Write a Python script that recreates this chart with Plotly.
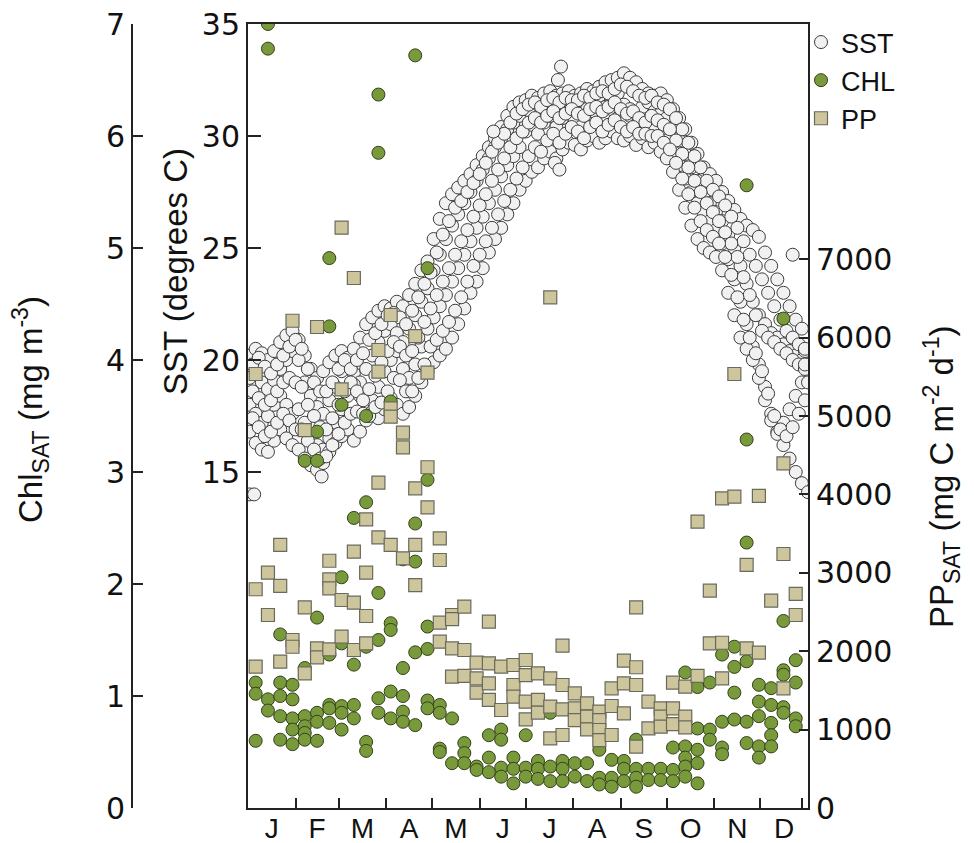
import plotly.graph_objects as go

# ---------------- data ----------------
month_labels = ["J", "F", "M", "A", "M", "J", "J", "A", "S", "O", "N", "D"]
month_mid = [15.5, 45, 74.5, 105, 135.5, 166, 196.5, 227.5, 258, 288.5, 319, 349.5]
month_end = [31, 59, 90, 120, 151, 181, 212, 243, 273, 304, 334, 361]

sst_days_1 = list(range(1, 362, 4))  # sampling days, series A-D
sst_days_2 = list(range(3, 364, 4))  # sampling days, series E-G

sst_a = [20.2, 20.5, 20.3, 20.0, 20.4, 20.8, 21.1, 21.3,
         20.9, 20.2, 19.6, 19.2, 19.5, 19.9, 20.2,
         20.4, 20.1, 20.5, 21.0, 21.6, 21.9, 22.2, 22.4,
         22.3, 22.6, 22.4, 22.9, 23.4, 24.0, 24.4,
         25.4, 26.3, 27.0, 27.4, 27.7, 28.0, 28.3, 28.7,
         29.1, 29.5, 29.9, 30.4, 30.9, 31.3, 31.5,
         31.6, 31.8, 31.7, 31.9, 32.0, 31.8, 31.9, 32.0,
         31.8, 31.9, 32.1, 32.0, 32.2, 32.4, 32.5, 32.6,
         32.8, 32.6, 32.4, 32.1, 31.9, 31.8, 31.9,
         31.6, 31.2, 30.8, 30.3, 29.7, 29.2, 28.6, 28.3,
         28.0, 27.5, 27.1, 26.7, 26.3, 26.0, 25.8, 25.5,
         24.8, 24.2, 23.6, 23.0, 22.4, 21.8, 21.4]
sst_b = [19.2, 19.5, 19.0, 18.7, 19.1, 19.6, 20.0, 20.4,
         20.0, 19.0, 18.4, 17.9, 17.6, 18.2, 18.8,
         19.5, 19.8, 19.4, 19.0, 19.6, 20.2, 20.8, 21.3,
         21.6, 21.2, 20.8, 21.4, 22.0, 22.6, 23.2,
         24.0, 24.7, 25.4, 26.0, 26.5, 27.0, 27.5, 28.0,
         28.5, 29.0, 29.5, 29.9, 30.3, 30.6, 30.9,
         31.2, 31.0, 31.4, 31.2, 30.9, 31.3, 31.5, 31.1,
         31.4, 31.6, 31.2, 31.5, 31.8, 31.3, 31.6, 31.9,
         31.4, 31.2, 30.9, 31.3, 31.5, 31.1, 31.0,
         30.8, 30.4, 29.8, 29.2, 28.6, 28.0, 27.4, 27.0,
         26.6, 26.2, 25.6, 25.0, 24.2, 23.4, 22.6, 22.0,
         21.6, 21.2, 21.0, 20.7, 20.4, 20.2, 20.0]
sst_c = [18.0, 17.6, 17.2, 17.5, 18.0, 18.4, 18.0, 17.6,
         17.8, 17.2, 16.6, 16.2, 16.0, 16.5, 17.2,
         17.8, 18.4, 18.9, 18.4, 17.8, 18.2, 18.8, 19.5,
         20.0, 20.4, 19.6, 19.2, 19.8, 20.6, 21.4,
         21.9, 22.4, 22.9, 23.5, 24.1, 24.7, 25.3, 25.9,
         26.4, 27.0, 27.6, 28.2, 28.7, 29.1, 29.5,
         30.2, 30.5, 30.1, 30.6, 30.9, 30.4, 30.8, 31.0,
         30.7, 30.4, 30.9, 31.1, 30.6, 30.9, 31.2, 30.8,
         30.6, 30.9, 30.5, 30.2, 30.6, 30.3, 30.0,
         29.8, 29.3, 28.7, 28.1, 27.5, 27.0, 26.6, 26.2,
         25.8, 25.2, 24.5, 23.6, 22.6, 21.6, 20.6, 19.8,
         18.8, 17.6, 16.8, 17.2, 17.8, 18.4, 19.0]
sst_d = [16.8, 16.3, 16.0, 15.9, 16.4, 16.9, 16.5, 16.2,
         16.0, 15.6, 15.3, 15.1, 15.4, 15.9, 16.3,
         16.6, 16.9, 16.4, 16.8, 17.3, 17.7, 17.4, 17.8,
         18.3, 18.0, 17.6, 17.9, 18.4, 19.0, 19.5,
         19.9, 20.2, 20.5, 21.0, 21.6, 22.3, 23.0, 23.5,
         24.1, 24.8, 25.4, 25.9, 26.5, 27.0, 27.6,
         28.0, 28.4, 28.6, 29.0, 29.3, 29.0, 29.4, 29.7,
         29.6, 29.4, 29.8, 30.0, 29.7, 29.9, 30.2, 29.9,
         29.8, 30.0, 29.6, 29.9, 29.5, 29.7, 29.3,
         29.0, 28.4, 27.6, 26.8, 26.0, 25.4, 25.0, 24.8,
         24.6, 24.0, 23.0, 22.0, 21.0, 20.5, 20.0, 19.2,
         18.2, 17.3, 16.7, 16.2, 15.6, 15.0, 14.5]
sst_e = [19.8, 20.1, 19.7, 19.4, 19.8, 20.2, 20.6, 20.9,
         20.5, 19.6, 19.0, 18.6, 18.6, 19.0, 19.6,
         20.0, 19.6, 20.0, 20.3, 20.9, 21.2, 21.6, 22.0,
         22.1, 21.9, 21.6, 22.2, 22.8, 23.4, 23.9,
         24.8, 25.6, 26.2, 26.8, 27.1, 27.5, 27.9, 28.3,
         28.8, 29.3, 29.7, 30.1, 30.6, 31.0, 31.2,
         31.4, 31.5, 31.3, 31.6, 31.7, 31.5, 31.7, 31.6,
         31.6, 31.8, 31.7, 31.9, 32.0, 31.9, 32.1, 32.3,
         32.2, 32.0, 31.8, 31.7, 31.8, 31.5, 31.4,
         31.2, 30.8, 30.3, 29.7, 29.1, 28.6, 28.0, 27.6,
         27.3, 26.9, 26.4, 25.9, 25.3, 24.7, 24.2, 23.6,
         23.0, 22.4, 21.8, 21.3, 21.0, 20.7, 20.4]
sst_f = [18.6, 18.3, 18.0, 18.2, 18.6, 19.0, 19.2, 19.0,
         18.8, 18.0, 17.5, 17.0, 16.9, 17.4, 18.0,
         18.6, 19.0, 18.6, 18.2, 18.7, 19.3, 19.9, 20.4,
         20.8, 20.6, 20.2, 20.4, 21.0, 21.7, 22.3,
         22.9, 23.5, 24.1, 24.7, 25.3, 25.8, 26.4, 26.9,
         27.4, 28.0, 28.5, 29.0, 29.5, 29.9, 30.2,
         30.6, 30.8, 30.6, 30.9, 31.1, 30.8, 31.0, 31.2,
         31.0, 30.9, 31.2, 31.3, 31.1, 31.3, 31.5, 31.2,
         31.0, 31.1, 30.8, 30.6, 30.9, 30.7, 30.5,
         30.3, 29.8, 29.2, 28.6, 28.0, 27.5, 27.0, 26.6,
         26.2, 25.7, 25.2, 24.6, 23.7, 22.9, 22.0, 21.3,
         21.0, 20.8, 20.5, 20.3, 20.0, 19.8, 19.6]
sst_g = [17.4, 17.0, 16.6, 16.8, 17.2, 17.6, 17.3, 16.9,
         16.9, 16.4, 16.0, 15.6, 15.7, 16.2, 16.7,
         17.2, 17.6, 17.7, 17.6, 17.5, 17.9, 18.1, 18.6,
         19.2, 19.1, 18.6, 18.6, 19.2, 19.8, 20.6,
         20.9, 21.3, 21.7, 22.2, 22.8, 23.5, 24.2, 24.7,
         25.3, 25.9, 26.5, 27.1, 27.6, 28.1, 28.6,
         29.1, 29.5, 29.3, 29.8, 30.1, 29.7, 30.1, 30.4,
         30.2, 29.9, 30.4, 30.6, 30.2, 30.5, 30.7, 30.4,
         30.2, 30.4, 30.1, 30.1, 30.0, 30.0, 29.7,
         29.4, 28.8, 28.1, 27.4, 26.8, 26.2, 25.8, 25.5,
         25.2, 24.6, 23.8, 22.8, 21.8, 21.0, 20.3, 19.5,
         18.5, 17.5, 16.9, 16.6, 17.0, 17.6, 18.2]
sst_extra_day = [1, 4, 48, 160, 200, 202, 203, 204, 355, 363, 363, 365, 365]
sst_extra_val = [14.0, 14.0, 14.8, 30.2, 28.8, 32.5, 28.5, 33.1, 24.7, 20.5, 19.8, 19.0, 14.1]

chl_day = [5, 5, 5,
           13, 13, 13, 13,
           21, 21, 21, 21, 21,
           29, 29, 29, 29, 29,
           37, 37, 37, 37, 37, 37,
           45, 45, 45, 45, 45, 45,
           53, 53, 53, 53, 53, 53,
           61, 61, 61, 61, 61, 61,
           69, 69, 69, 69,
           77, 77, 77, 77, 77,
           85, 85, 85, 85, 85, 85,
           93, 93, 93, 93, 93,
           101, 101, 101, 101, 101,
           109, 109, 109, 109, 109,
           117, 117, 117, 117, 117, 117,
           125, 125, 125, 125,
           133, 133,
           141, 141, 141,
           149, 149,
           157, 157, 157,
           165, 165, 165, 165,
           173, 173, 173,
           181, 181, 181,
           189, 189, 189,
           197, 197, 197,
           205, 205, 205,
           213, 213,
           221, 221,
           229, 229, 229,
           237, 237, 237,
           245, 245, 245,
           253, 253, 253, 253,
           261, 261,
           269, 269,
           277, 277, 277,
           285, 285, 285, 285, 285,
           293, 293, 293, 293, 293,
           301, 301, 301,
           309, 309, 309, 309,
           317, 317, 317, 317,
           325, 325, 325, 325, 325, 325,
           333, 333, 333, 333, 333,
           341, 341, 341, 341, 341,
           349, 349, 349, 349, 349, 349,
           357, 357, 357, 357]
chl_val = [1.12, 1.02, 0.60,
           7.00, 6.78, 0.97, 0.87,
           1.55, 1.12, 1.00, 0.82, 0.61,
           1.10, 0.97, 0.80, 0.70, 0.57,
           3.10, 1.25, 0.82, 0.73, 0.67, 0.61,
           3.36, 3.10, 1.70, 0.85, 0.77, 0.60,
           4.91, 4.30, 1.37, 0.92, 0.89, 0.76,
           3.60, 2.06, 1.47, 0.91, 0.85, 0.70,
           2.59, 1.28, 0.92, 0.80,
           3.50, 2.73, 1.44, 0.59, 0.51,
           6.37, 5.85, 1.92, 1.50, 0.98, 0.85,
           3.63, 1.65, 1.59, 1.04, 0.80,
           2.22, 1.25, 1.00, 0.86, 0.77,
           6.72, 2.54, 2.20, 1.39, 0.74,
           4.82, 2.93, 1.62, 1.42, 0.96, 0.89,
           0.92, 0.85, 0.53, 0.50,
           0.80, 0.40,
           0.58, 0.49, 0.40,
           0.37, 0.34,
           0.65, 0.45, 0.32,
           0.70, 0.61, 0.36, 0.28,
           0.45, 0.35, 0.22,
           0.65, 0.36, 0.28,
           0.42, 0.35, 0.26,
           0.85, 0.37, 0.24,
           0.42, 0.35, 0.24,
           0.40, 0.28,
           0.40, 0.24,
           0.52, 0.27, 0.21,
           0.43, 0.27, 0.19,
           0.42, 0.35, 0.24,
           0.61, 0.35, 0.27, 0.19,
           0.35, 0.25,
           0.35, 0.25,
           0.54, 0.34, 0.24,
           1.21, 0.55, 0.45, 0.37, 0.28,
           1.08, 0.71, 0.52, 0.40, 0.22,
           1.12, 0.70, 0.61,
           1.37, 0.77, 0.54, 0.48,
           1.44, 1.26, 1.03, 0.79,
           5.56, 3.29, 2.37, 1.31, 0.77, 0.58,
           1.10, 0.95, 0.82, 0.55, 0.45,
           1.07, 0.92, 0.76, 0.65, 0.55,
           4.37, 1.67, 1.23, 1.19, 0.90, 0.85,
           1.32, 1.12, 0.80, 0.73]

pp_day = [5, 5, 5,
          13, 13,
          21, 21, 21,
          29, 29, 29,
          37, 37, 37,
          45, 45, 45,
          53, 53, 53, 53,
          61, 61, 61, 61,
          69, 69, 69, 69,
          77, 77, 77, 77,
          85, 85, 85, 85,
          93, 93, 93, 93,
          101, 101, 101,
          109, 109, 109, 109,
          117, 117, 117,
          125, 125, 125, 125,
          133, 133, 133, 133,
          141, 141, 141,
          149, 149, 149,
          157, 157, 157, 157,
          165, 165,
          173, 173, 173,
          181, 181, 181, 181,
          189, 189, 189,
          197, 197, 197, 197,
          205, 205, 205, 205,
          213, 213, 213,
          221, 221, 221,
          229, 229, 229, 229,
          237, 237, 237,
          245, 245, 245,
          253, 253, 253, 253,
          261, 261,
          269, 269, 269,
          277, 277, 277,
          285, 285, 285,
          293, 293,
          301, 301,
          309, 309, 309,
          317, 317,
          325, 325,
          333, 333,
          341,
          349, 349, 349,
          357, 357]
pp_val = [5536, 2790, 1802,
          3001, 2462,
          3355, 2832, 1866,
          6215, 2143, 2057,
          4821, 2560, 1718,
          6135, 2037, 1922,
          3154, 2917, 2802, 2024,
          7402, 5340, 2653, 2185,
          6760, 3269, 2619, 2015,
          3682, 3001, 2449, 2100,
          5842, 5565, 4150, 3453,
          6288, 5098, 4991, 3355,
          4787, 4600, 3185,
          6020, 4077, 3355, 2844,
          5552, 4346, 3835,
          3440, 3163, 2364, 2121,
          2462, 2410, 2037, 1675,
          2568, 2015, 1684,
          1853, 1654, 1471,
          2376, 1845, 1590, 1378,
          1802, 1250,
          1824, 1569, 1420,
          1888, 1696, 1356, 1131,
          1718, 1378, 1216,
          6514, 1654, 1292, 889,
          2070, 1569, 1259, 931,
          1463, 1271, 1122,
          1335, 1165, 1004,
          1228, 1122, 995, 867,
          1527, 1301, 931,
          1879, 1590, 1208,
          2560, 1795, 1569, 782,
          1356, 1016,
          1271, 1165, 1037,
          1598, 1271, 1071,
          1547, 1165, 1029,
          3652, 1684,
          2772, 2100,
          3950, 2108, 1654,
          5536, 3971,
          3100, 2037,
          3980, 1981,
          2644,
          4396, 3240, 1527,
          2730, 2462]

# ---------------- figure ----------------
OFF = 8                      # page body margin of the html page
W, H = 974 - OFF, 843 - OFF
PL, PR, PT, PB = 248, 808, 24, 808   # plot-area box in page pixels
paper_h = PB - PT


def px_x(px):
    return (px - OFF) / W


def px_y(py):
    return (PB - py) / paper_h


sst_x = sst_days_1 * 4 + sst_days_2 * 3 + sst_extra_day
sst_y = sst_a + sst_b + sst_c + sst_d + sst_e + sst_f + sst_g + sst_extra_val

fig = go.Figure()
fig.add_trace(go.Scatter(
    x=sst_x, y=sst_y, mode="markers", name="SST", yaxis="y",
    marker=dict(symbol="circle", size=13, color="#f1f1f1",
                line=dict(color="#3c3c3c", width=1))))
fig.add_trace(go.Scatter(
    x=chl_day, y=chl_val, mode="markers", name="CHL", yaxis="y2",
    marker=dict(symbol="circle", size=13, color="#789a3a",
                line=dict(color="#34401c", width=1))))
fig.add_trace(go.Scatter(
    x=pp_day, y=pp_val, mode="markers", name="PP", yaxis="y3",
    marker=dict(symbol="square", size=13, color="#cdc59c",
                line=dict(color="#6a6a5c", width=1.2))))

num_font = dict(family="DejaVu Sans", size=30, color="#111")
line_col = "#222"

fig.update_layout(
    width=W, height=H,
    margin=dict(l=0, r=0, t=PT - OFF, b=H - (PB - OFF), autoexpand=False),
    paper_bgcolor="white", plot_bgcolor="white",
    showlegend=True,
    legend=dict(x=px_x(801), y=px_y(18), xanchor="left", yanchor="top",
                font=dict(family="Liberation Sans", size=27, color="#111"),
                bgcolor="rgba(0,0,0,0)", itemwidth=30, tracegroupgap=0),
    xaxis=dict(domain=[px_x(PL), px_x(PR)], range=[0, 365],
               showline=True, linecolor=line_col, linewidth=2, mirror=True,
               showgrid=False, zeroline=False,
               tickmode="array", tickvals=month_mid, ticktext=month_labels,
               ticks="", ticklabeloverflow="allow", ticklabelstandoff=-6,
               tickfont=dict(family="Liberation Sans", size=28, color="#111"),
               minor=dict(tickmode="array", tickvals=month_end, ticks="inside",
                          ticklen=10, tickwidth=2, tickcolor=line_col, showgrid=False)),
    yaxis=dict(range=[0, 35], tickmode="array", tickvals=[15, 20, 25, 30, 35],
               showline=True, linecolor=line_col, linewidth=2, mirror=True,
               ticks="inside", ticklen=13, tickwidth=2, tickcolor=line_col,
               ticklabeloverflow="allow",
               showgrid=False, zeroline=False, tickfont=num_font),
    yaxis2=dict(range=[0, 7], tickmode="array", tickvals=[0, 1, 2, 3, 4, 5, 6, 7],
                overlaying="y", anchor="free", position=px_x(132), side="left",
                showline=True, linecolor=line_col, linewidth=2,
                ticks="inside", ticklen=10, tickwidth=2, tickcolor=line_col,
                ticklabeloverflow="allow",
                showgrid=False, zeroline=False, tickfont=num_font),
    yaxis3=dict(range=[0, 10000], tickmode="array",
                tickvals=[0, 1000, 2000, 3000, 4000, 5000, 6000, 7000],
                overlaying="y", anchor="x", side="right",
                showline=True, linecolor=line_col, linewidth=2,
                ticks="inside", ticklen=9, tickwidth=2, tickcolor=line_col,
                ticklabeloverflow="allow",
                showgrid=False, zeroline=False, tickfont=num_font),
)

title_font = dict(family="Liberation Sans", size=33, color="#111")
fig.add_annotation(text="Chl<sub>SAT</sub> (mg m<sup>-3</sup>)", textangle=-90,
                   xref="paper", yref="paper", x=px_x(30), y=px_y(410),
                   xanchor="center", yanchor="middle", showarrow=False, font=title_font)
fig.add_annotation(text="SST (degrees C)", textangle=-90,
                   xref="paper", yref="paper", x=px_x(175), y=px_y(272),
                   xanchor="center", yanchor="middle", showarrow=False, font=title_font)
fig.add_annotation(text="PP<sub>SAT</sub> (mg C m<sup>-2</sup> d<sup>-1</sup>)", textangle=-90,
                   xref="paper", yref="paper", x=px_x(941), y=px_y(477),
                   xanchor="center", yanchor="middle", showarrow=False, font=title_font)

fig.write_html("out.html")
